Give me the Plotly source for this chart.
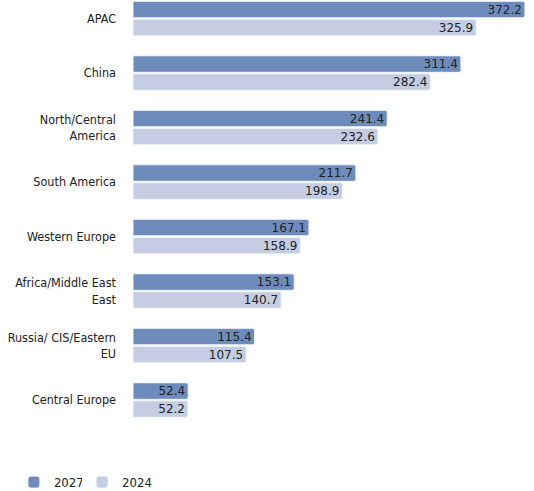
import plotly.graph_objects as go

regions = [
    "APAC",
    "China",
    "North/Central<br>America",
    "South America",
    "Western Europe",
    "Africa/Middle East<br>East",
    "Russia/ CIS/Eastern<br>EU",
    "Central Europe",
]
values_2027 = [372.2, 311.4, 241.4, 211.7, 167.1, 153.1, 115.4, 52.4]
values_2024 = [325.9, 282.4, 232.6, 198.9, 158.9, 140.7, 107.5, 52.2]

color_2027 = "#6e8cbb"
color_2024 = "#c4cde2"
text_color = "#222222"
font_family = "DejaVu Sans Condensed, DejaVu Sans, Verdana, sans-serif"
value_font = "DejaVu Sans, Verdana, sans-serif"

series = [
    ("2027", values_2027, color_2027, "legend"),
    ("2024", values_2024, color_2024, "legend2"),
]

fig = go.Figure()
for name, vals, col, leg in series:
    fig.add_trace(go.Bar(
        name=name,
        y=regions,
        x=vals,
        orientation="h",
        legend=leg,
        marker=dict(color=col, line=dict(color="#f4f6fa", width=1)),
        text=[f"{v:.1f}" for v in vals],
        textposition="inside",
        insidetextanchor="end",
        textfont=dict(color=text_color, size=12, family=value_font),
        constraintext="none",
        hoverinfo="skip",
    ))

legend_style = dict(
    orientation="h",
    xanchor="left",
    yref="container",
    y=0.018,
    yanchor="middle",
    font=dict(size=13, color=text_color),
    itemwidth=30,
)

fig.update_layout(
    width=534,
    height=491,
    margin=dict(l=133, r=0, t=0, b=61, autoexpand=False),
    paper_bgcolor="white",
    plot_bgcolor="white",
    barmode="group",
    bargap=0.34,
    bargroupgap=0.08,
    barcornerradius=2,
    font=dict(family=font_family, size=12, color=text_color),
    showlegend=True,
    legend=dict(x=-0.297, **legend_style),
    legend2=dict(x=-0.127, **legend_style),
    xaxis=dict(
        range=[0, 380.8],
        showgrid=False,
        zeroline=False,
        showline=False,
        showticklabels=False,
        fixedrange=True,
    ),
    yaxis=dict(
        range=[7.55, -0.34],
        showgrid=False,
        zeroline=False,
        showline=False,
        ticks="",
        ticklabelstandoff=16,
        tickfont=dict(size=12.5, color=text_color),
        fixedrange=True,
    ),
)

fig.write_html("out.html")
